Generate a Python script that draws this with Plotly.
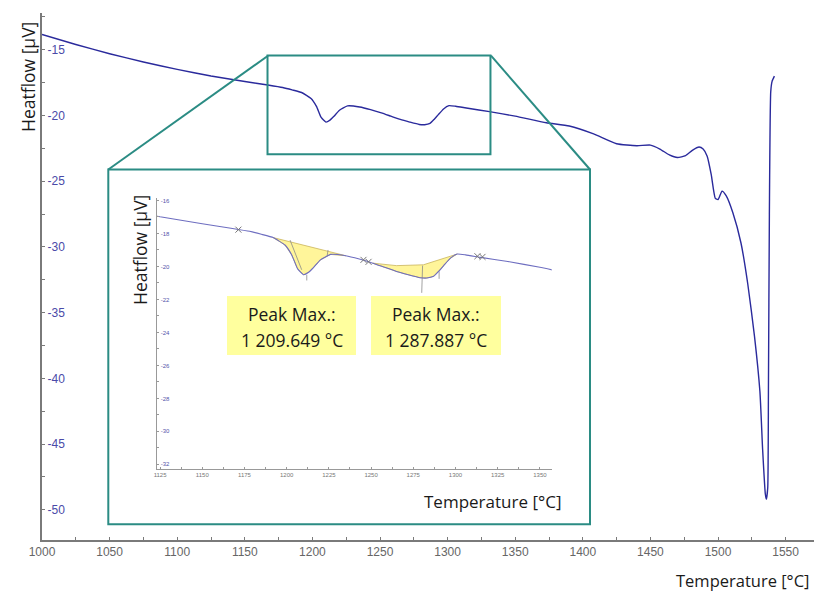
import plotly.graph_objects as go

# ---------------- data ----------------
temperature = [1000, 1025, 1050, 1075, 1100, 1125, 1150, 1167, 1178, 1185, 1192, 1199, 1203, 1206.5,
               1210, 1213, 1216, 1220, 1226, 1235, 1243, 1251, 1258, 1265, 1272, 1279, 1283, 1287,
               1290, 1293, 1297, 1301, 1306, 1315, 1331, 1350, 1373, 1390, 1408, 1425, 1440, 1450,
               1457, 1464, 1470, 1476, 1481, 1486, 1489, 1492, 1495, 1498, 1500, 1503, 1506, 1511,
               1517, 1522, 1527, 1531, 1533, 1535, 1535.8, 1536.8, 1537.3, 1538, 1539, 1540, 1541.7]
heatflow = [-13.83, -14.6, -15.3, -15.93, -16.49, -16.99, -17.41, -17.68, -17.87, -18.05, -18.25,
            -18.7, -19.3, -20.15, -20.5, -20.35, -20.05, -19.6, -19.27, -19.35, -19.55, -19.8,
            -20.05, -20.3, -20.5, -20.68, -20.7, -20.6, -20.3, -19.95, -19.5, -19.25, -19.3,
            -19.45, -19.7, -20.05, -20.55, -20.8, -21.4, -22.15, -22.3, -22.25, -22.55, -23.0,
            -23.2, -23.05, -22.65, -22.4, -22.55, -23.1, -24.5, -26.3, -26.4, -25.75, -26.1,
            -27.4, -29.7, -32.8, -36.8, -41.0, -45.4, -48.8, -49.2, -48.3, -41.0, -27.5, -18.2,
            -17.4, -17.0]

main_x_ticks = [1000, 1050, 1100, 1150, 1200, 1250, 1300, 1350, 1400, 1450, 1500, 1550]
main_y_ticks = [-15, -20, -25, -30, -35, -40, -45, -50]
inset_x_ticks = [1125, 1150, 1175, 1200, 1225, 1250, 1275, 1300, 1325, 1350]
inset_y_ticks = [-16, -18, -20, -22, -24, -26, -28, -30, -32]

# integration baselines of the two peaks (inset)
peak1_base_T = [1192, 1235]
peak1_base_v = [-18.25, -19.35]
peak2_base_T = [1251, 1265, 1281, 1291, 1297, 1301]
peak2_base_v = [-19.8, -19.95, -19.9, -19.6, -19.38, -19.25]

peak_labels = ["Peak Max.:", "1 209.649 °C", "Peak Max.:", "1 287.887 °C"]

# evaluation marks (x) in inset
mark_T = [1171.4, 1245.5, 1248.5, 1313, 1316]
mark_v = [-17.77, -19.6, -19.72, -19.38, -19.42]

# small grey helper lines in inset: (T0, v0, T1, v1)
helper_lines = [(1202, -18.4, 1208.9, -20.2), (1224.5, -19.0, 1224.0, -19.35),
                (1211.9, -20.5, 1211.9, -20.85), (1280.5, -19.95, 1280.0, -21.6),
                (1290.3, -20.3, 1290.3, -20.75)]

# zoom window on the main chart (data coords)
zoom_T = [1166.8, 1331.7]
zoom_v = [-22.94, -15.43]

# ---------------- helpers (pixel -> paper) ----------------
W, H = 814, 592
ML, MR, MT, MB = 42, 0, 13, 52
PW, PH = W - ML - MR, H - MT - MB


def fx(p):
    return (p - ML) / PW


def fy(p):
    return (H - MB - p) / PH


TEAL = "#2b8c84"
YELLOW = "#ffff9e"

fig = go.Figure()

# main curve
fig.add_trace(go.Scatter(x=temperature, y=heatflow, mode="lines",
                         line=dict(color="#2a2a9c", width=1.4, shape="spline", smoothing=0.5),
                         xaxis="x", yaxis="y", hoverinfo="skip", showlegend=False))


# ---- inset: peak areas ----
def area(base_T, base_v):
    lo, hi = base_T[0], base_T[-1]
    seg = [(t, v) for t, v in zip(temperature, heatflow) if lo <= t <= hi]
    seg = seg[::-1]
    xs = list(base_T) + [s[0] for s in seg]
    ys = list(base_v) + [s[1] for s in seg]
    return xs, ys


for bT, bv in [(peak1_base_T, peak1_base_v), (peak2_base_T, peak2_base_v)]:
    ax_, ay_ = area(bT, bv)
    fig.add_trace(go.Scatter(x=ax_, y=ay_, mode="lines", fill="toself", fillcolor="#fff59a",
                             line=dict(color="#c9b45a", width=0.8), xaxis="x2", yaxis="y2",
                             hoverinfo="skip", showlegend=False))

for (t0, v0, t1, v1) in helper_lines:
    fig.add_trace(go.Scatter(x=[t0, t1], y=[v0, v1], mode="lines",
                             line=dict(color="#8a8a8a", width=0.8), xaxis="x2", yaxis="y2",
                             hoverinfo="skip", showlegend=False))

# inset curve
fig.add_trace(go.Scatter(x=temperature, y=heatflow, mode="lines",
                         line=dict(color="#6e6ec0", width=1.1, shape="spline", smoothing=0.4),
                         xaxis="x2", yaxis="y2", hoverinfo="skip", showlegend=False))

fig.add_trace(go.Scatter(x=mark_T, y=mark_v, mode="markers",
                         marker=dict(symbol="x-thin", size=6, line=dict(color="#777777", width=1)),
                         xaxis="x2", yaxis="y2", hoverinfo="skip", showlegend=False))

# ---------------- shapes ----------------
shapes = []
ib = dict(x0=fx(108.3), x1=fx(590), y0=fy(524.3), y1=fy(169.5))
shapes.append(dict(type="rect", xref="paper", yref="paper", layer="below",
                   fillcolor="white", line=dict(color=TEAL, width=2), **ib))
shapes.append(dict(type="rect", xref="x", yref="y", x0=zoom_T[0], x1=zoom_T[1],
                   y0=zoom_v[0], y1=zoom_v[1], line=dict(color=TEAL, width=2), layer="above"))
shapes.append(dict(type="line", xref="paper", yref="paper", x0=fx(268), y0=fy(55.7),
                   x1=ib["x0"], y1=ib["y1"], line=dict(color=TEAL, width=2)))
shapes.append(dict(type="line", xref="paper", yref="paper", x0=fx(491), y0=fy(55.7),
                   x1=ib["x1"], y1=ib["y1"], line=dict(color=TEAL, width=2)))
for (x0, x1) in [(227, 356), (371, 501)]:
    shapes.append(dict(type="rect", xref="paper", yref="paper", x0=fx(x0), x1=fx(x1),
                       y0=fy(355), y1=fy(296), fillcolor=YELLOW, line=dict(width=0), layer="above"))

# ---------------- annotations ----------------
TXT = dict(family="Open Sans, Noto Sans, sans-serif", color="#1a1a1a")
ann = []
centers = [(291.5, 313.5), (291.5, 339.5), (436, 313.5), (436, 339.5)]
for lab, (cx, cy) in zip(peak_labels, centers):
    ann.append(dict(text=lab, x=fx(cx), y=fy(cy), xref="paper", yref="paper", showarrow=False,
                    xanchor="center", yanchor="middle", font=dict(size=17.5, **TXT)))
ann.append(dict(text="Heatflow [µV]", x=fx(28), y=fy(77), xref="paper", yref="paper",
                showarrow=False, textangle=-90, xanchor="center", yanchor="middle",
                font=dict(size=17.5, **TXT)))
ann.append(dict(text="Temperature [°C]", x=fx(810), y=fy(580), xref="paper", yref="paper",
                showarrow=False, xanchor="right", yanchor="middle", borderpad=0,
                font=dict(size=16.5, **TXT)))
ann.append(dict(text="Heatflow [µV]", x=fx(140), y=fy(250), xref="paper", yref="paper",
                showarrow=False, textangle=-90, xanchor="center", yanchor="middle",
                font=dict(size=17.5, **TXT)))
ann.append(dict(text="Temperature [°C]", x=fx(493), y=fy(501), xref="paper", yref="paper",
                showarrow=False, xanchor="center", yanchor="middle", font=dict(size=17, **TXT)))

AXC = "#7a7a7a"
fig.update_layout(
    width=W, height=H,
    margin=dict(l=ML, r=MR, t=MT, b=MB, pad=0),
    paper_bgcolor="white", plot_bgcolor="rgba(0,0,0,0)",
    showlegend=False,
    shapes=shapes, annotations=ann,
    xaxis=dict(range=[1000, 1000 + PW / 1.352], tickvals=main_x_ticks, showgrid=False,
               zeroline=False, showline=True, linecolor=AXC, linewidth=1.5,
               ticks="inside", ticklen=3, tickcolor=AXC,
               minor=dict(dtick=25, ticks="inside", ticklen=3, tickcolor=AXC),
               tickfont=dict(family="Liberation Sans, Arial", size=12, color="#666666")),
    yaxis=dict(range=[-52.3, -12.2], tickvals=main_y_ticks, ticktext=[str(v) for v in main_y_ticks],
               showgrid=False, zeroline=False, showline=True, linecolor=AXC, linewidth=1.5,
               ticks="inside", ticklen=3, tickcolor=AXC, ticklabelposition="outside",
               ticklabelstandoff=-27,
               minor=dict(dtick=2.5, ticks="inside", ticklen=3, tickcolor=AXC),
               tickfont=dict(family="Liberation Sans, Arial", size=12, color="#4a4aa8")),
    xaxis2=dict(domain=[fx(156.7), fx(551.7)], anchor="y2", range=[1123, 1357],
                tickvals=inset_x_ticks, showgrid=False, zeroline=False, showline=True,
                linecolor="#999999", linewidth=1.2, ticks="inside", ticklen=2, tickcolor="#999999",
                minor=dict(dtick=12.5, ticks="inside", ticklen=2, tickcolor="#999999"),
                tickfont=dict(family="Liberation Sans, Arial", size=6, color="#777777")),
    yaxis2=dict(domain=[fy(469), fy(198)], anchor="x2", range=[-32.28, -15.85],
                tickvals=inset_y_ticks, ticktext=[str(v) for v in inset_y_ticks],
                showgrid=False, zeroline=False, showline=True,
                linecolor="#999999", linewidth=1.2, ticks="inside", ticklen=2, tickcolor="#999999",
                ticklabelposition="outside", ticklabelstandoff=-15,
                minor=dict(dtick=1, ticks="inside", ticklen=2, tickcolor="#999999"),
                tickfont=dict(family="Liberation Sans, Arial", size=6, color="#5555aa")),
)

fig.write_html("out.html")
